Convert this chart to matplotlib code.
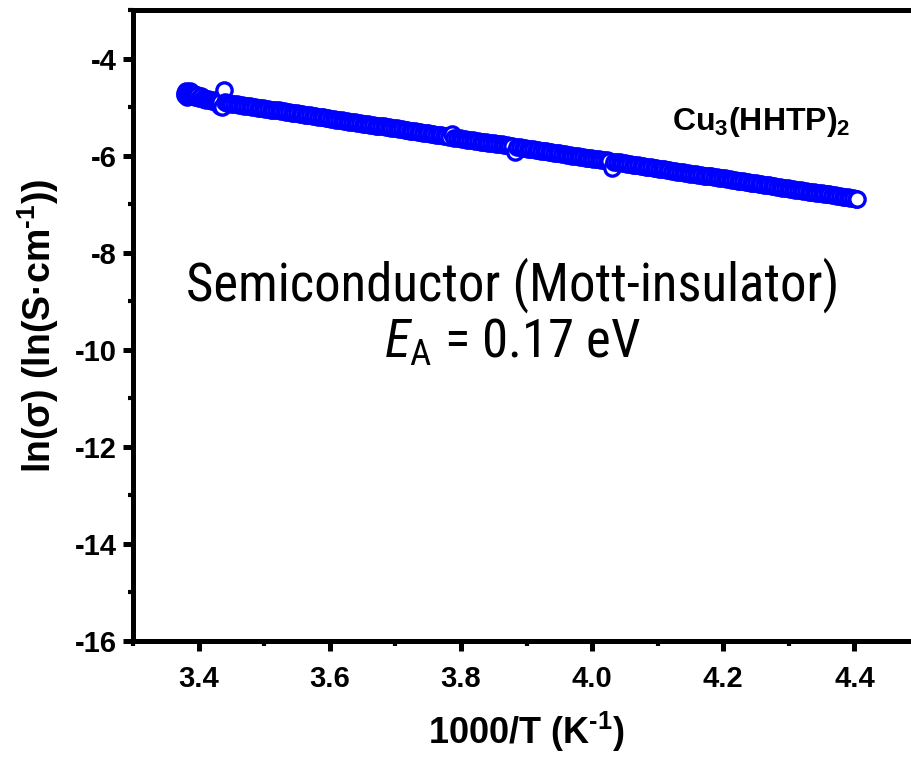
import matplotlib
import numpy as np
import matplotlib.pyplot as plt
from matplotlib import font_manager
from matplotlib.ticker import MultipleLocator

matplotlib.use("Agg")

# 1000/T (K^-1) and ln(sigma) for Cu3(HHTP)2, sweep from room temperature downwards
inv_t_start = [3.380, 3.380, 3.381, 3.381, 3.382, 3.383, 3.384, 3.385, 3.386, 3.387,
               3.388, 3.390, 3.391, 3.393, 3.395, 3.397, 3.400, 3.403, 3.406, 3.409,
               3.412, 3.415, 3.418, 3.421, 3.424, 3.427, 3.430, 3.432, 3.433, 3.436,
               3.438, 3.441, 3.443, 3.446]
ln_sigma_start = [-4.70, -4.76, -4.66, -4.74, -4.79, -4.68, -4.75, -4.70, -4.78, -4.67,
                  -4.74, -4.70, -4.77, -4.73, -4.79, -4.75, -4.81, -4.78, -4.83, -4.81,
                  -4.85, -4.83, -4.86, -4.88, -4.86, -4.89, -4.88, -4.98, -4.90, -5.00,
                  -4.65, -4.90, -4.92, -4.92]

inv_t_sweep = [
    3.450, 3.454, 3.458, 3.462, 3.466, 3.470, 3.474, 3.478, 3.482, 3.486,
    3.490, 3.494, 3.498, 3.502, 3.506, 3.510, 3.514, 3.518, 3.522, 3.526,
    3.530, 3.534, 3.538, 3.542, 3.546, 3.550, 3.554, 3.558, 3.562, 3.566,
    3.570, 3.574, 3.578, 3.582, 3.586, 3.590, 3.594, 3.598, 3.602, 3.606,
    3.610, 3.614, 3.618, 3.622, 3.626, 3.630, 3.634, 3.638, 3.642, 3.646,
    3.650, 3.654, 3.658, 3.662, 3.666, 3.670, 3.674, 3.678, 3.682, 3.686,
    3.690, 3.694, 3.698, 3.702, 3.706, 3.710, 3.714, 3.718, 3.722, 3.726,
    3.730, 3.734, 3.738, 3.742, 3.746, 3.750, 3.754, 3.758, 3.762, 3.766,
    3.770, 3.774, 3.778, 3.782, 3.786, 3.790, 3.794, 3.798, 3.802, 3.806,
    3.810, 3.814, 3.818, 3.822, 3.826, 3.830, 3.834, 3.838, 3.842, 3.846,
    3.850, 3.854, 3.858, 3.862, 3.866, 3.870, 3.874, 3.878, 3.882, 3.886,
    3.890, 3.894, 3.898, 3.902, 3.906, 3.910, 3.914, 3.918, 3.922, 3.926,
    3.930, 3.934, 3.938, 3.942, 3.946, 3.950, 3.954, 3.958, 3.962, 3.966,
    3.970, 3.974, 3.978, 3.982, 3.986, 3.990, 3.994, 3.998, 4.002, 4.006,
    4.010, 4.014, 4.018, 4.022, 4.026, 4.030, 4.034, 4.038, 4.042, 4.046,
    4.050, 4.054, 4.058, 4.062, 4.066, 4.070, 4.074, 4.078, 4.082, 4.086,
    4.090, 4.094, 4.098, 4.102, 4.106, 4.110, 4.114, 4.118, 4.122, 4.126,
    4.130, 4.134, 4.138, 4.142, 4.146, 4.150, 4.154, 4.158, 4.162, 4.166,
    4.170, 4.174, 4.178, 4.182, 4.186, 4.190, 4.194, 4.198, 4.202, 4.206,
    4.210, 4.214, 4.218, 4.222, 4.226, 4.230, 4.234, 4.238, 4.242, 4.246,
    4.250, 4.254, 4.258, 4.262, 4.266, 4.270, 4.274, 4.278, 4.282, 4.286,
    4.290, 4.294, 4.298, 4.302, 4.306, 4.310, 4.314, 4.318, 4.322, 4.326,
    4.330, 4.334, 4.338, 4.342, 4.346, 4.350, 4.354, 4.358, 4.362, 4.366,
    4.370, 4.374, 4.378, 4.382, 4.386, 4.390, 4.394, 4.398, 4.402, 4.404]
ln_sigma_sweep = [
    -4.93, -4.93, -4.94, -4.95, -4.96, -4.97, -4.97, -4.98, -4.99, -5.00,
    -5.01, -5.02, -5.02, -5.03, -5.04, -5.05, -5.06, -5.07, -5.07, -5.08,
    -5.09, -5.10, -5.11, -5.12, -5.12, -5.13, -5.14, -5.15, -5.16, -5.16,
    -5.17, -5.18, -5.19, -5.20, -5.21, -5.21, -5.22, -5.23, -5.24, -5.25,
    -5.26, -5.26, -5.27, -5.28, -5.29, -5.30, -5.30, -5.31, -5.32, -5.33,
    -5.34, -5.35, -5.35, -5.36, -5.37, -5.38, -5.39, -5.39, -5.40, -5.41,
    -5.42, -5.43, -5.44, -5.44, -5.45, -5.46, -5.47, -5.48, -5.49, -5.49,
    -5.50, -5.51, -5.52, -5.53, -5.54, -5.54, -5.55, -5.56, -5.57, -5.58,
    -5.58, -5.59, -5.60, -5.61, -5.55, -5.63, -5.63, -5.64, -5.65, -5.66,
    -5.67, -5.67, -5.68, -5.69, -5.70, -5.71, -5.72, -5.72, -5.73, -5.74,
    -5.75, -5.76, -5.77, -5.77, -5.78, -5.79, -5.80, -5.81, -5.93, -5.82,
    -5.83, -5.84, -5.85, -5.86, -5.86, -5.87, -5.88, -5.89, -5.90, -5.91,
    -5.91, -5.92, -5.93, -5.94, -5.95, -5.95, -5.96, -5.97, -5.98, -5.99,
    -6.00, -6.00, -6.01, -6.02, -6.03, -6.04, -6.05, -6.05, -6.06, -6.07,
    -6.08, -6.09, -6.10, -6.10, -6.11, -6.26, -6.13, -6.14, -6.14, -6.15,
    -6.16, -6.17, -6.18, -6.19, -6.19, -6.20, -6.21, -6.22, -6.23, -6.24,
    -6.24, -6.25, -6.26, -6.27, -6.28, -6.28, -6.29, -6.30, -6.31, -6.32,
    -6.33, -6.33, -6.34, -6.35, -6.36, -6.37, -6.38, -6.38, -6.39, -6.40,
    -6.41, -6.42, -6.42, -6.43, -6.44, -6.45, -6.46, -6.47, -6.47, -6.48,
    -6.49, -6.50, -6.51, -6.52, -6.52, -6.53, -6.54, -6.55, -6.56, -6.57,
    -6.57, -6.58, -6.59, -6.60, -6.61, -6.61, -6.62, -6.63, -6.64, -6.65,
    -6.66, -6.66, -6.67, -6.68, -6.69, -6.70, -6.70, -6.71, -6.72, -6.73,
    -6.74, -6.75, -6.75, -6.76, -6.77, -6.78, -6.79, -6.80, -6.80, -6.81,
    -6.82, -6.83, -6.84, -6.85, -6.85, -6.86, -6.87, -6.88, -6.89, -6.89]

x_major = [3.4, 3.6, 3.8, 4.0, 4.2, 4.4]
y_major = [-16, -14, -12, -10, -8, -6, -4]

sample_name = "Cu$_{\\text{3}}$(HHTP)$_{\\text{2}}$"
note_line1 = "Semiconductor (Mott-insulator)"
note_line2 = "$\\mathit{E}_\\mathsf{A}$ = 0.17 eV"

# a condensed sans face for the annotation, if one is around
installed = {f.name for f in font_manager.fontManager.ttflist}
note_font, note_size = "Liberation Sans", 34
for cand in ["Liberation Sans Narrow", "Arial Narrow", "Roboto Condensed", "Open Sans Condensed"]:
    if cand in installed:
        note_font, note_size = cand, 38
        break

plt.rcParams["font.family"] = ["Liberation Sans", "DejaVu Sans"]
plt.rcParams["mathtext.fontset"] = "custom"
plt.rcParams["mathtext.rm"] = "Liberation Sans:bold"
plt.rcParams["mathtext.bf"] = "Liberation Sans:bold"
plt.rcParams["mathtext.it"] = note_font + ":italic"
plt.rcParams["mathtext.sf"] = note_font

fig = plt.figure(figsize=(9.12, 7.65), dpi=100)
ax = fig.add_axes([133 / 912, 124 / 765, 787 / 912, 631 / 765])

x = np.array(inv_t_start + inv_t_sweep)
y = np.array(ln_sigma_start + ln_sigma_sweep)
ax.plot(x, y, linestyle="none", marker="o", ms=11, mew=2.4,
        mec="#0000ff", mfc="white", clip_on=False)

ax.set_xlim(3.3, 4.5)
ax.set_ylim(-16, -3)
ax.set_xticks(x_major)
ax.set_yticks(y_major)
ax.xaxis.set_minor_locator(MultipleLocator(0.1))
ax.yaxis.set_minor_locator(MultipleLocator(1))
ax.set_xticklabels([f"{v:.1f}" for v in x_major])
ax.set_yticklabels([f"{v}" for v in y_major])

for s in ["top", "bottom", "left"]:
    ax.spines[s].set_linewidth(3.6)
ax.spines["right"].set_visible(False)
ax.tick_params(which="major", direction="out", length=7.5, width=3.6, labelsize=21, pad=4)
ax.tick_params(axis="x", which="major", pad=10)
ax.tick_params(which="minor", direction="out", length=3.5, width=3.0)
for lab in ax.get_xticklabels() + ax.get_yticklabels():
    lab.set_fontweight("bold")

ax.set_xlabel("1000/T (K$^{\\text{-1}}$)", fontsize=26, fontweight="bold", labelpad=12)
ax.set_ylabel("ln(σ) (ln(S·cm$^{\\text{-1}}$))", fontsize=27, fontweight="bold", labelpad=10)

ax.text(4.122, -5.47, sample_name, fontsize=23, fontweight="bold", ha="left", va="baseline")
ax.text(3.879, -8.98, note_line1, fontsize=note_size, family=note_font, ha="center", va="baseline")
ax.text(3.879, -10.16, note_line2, fontsize=note_size, family=note_font, ha="center", va="baseline")

fig.savefig("out.png", dpi=100, facecolor="white")
